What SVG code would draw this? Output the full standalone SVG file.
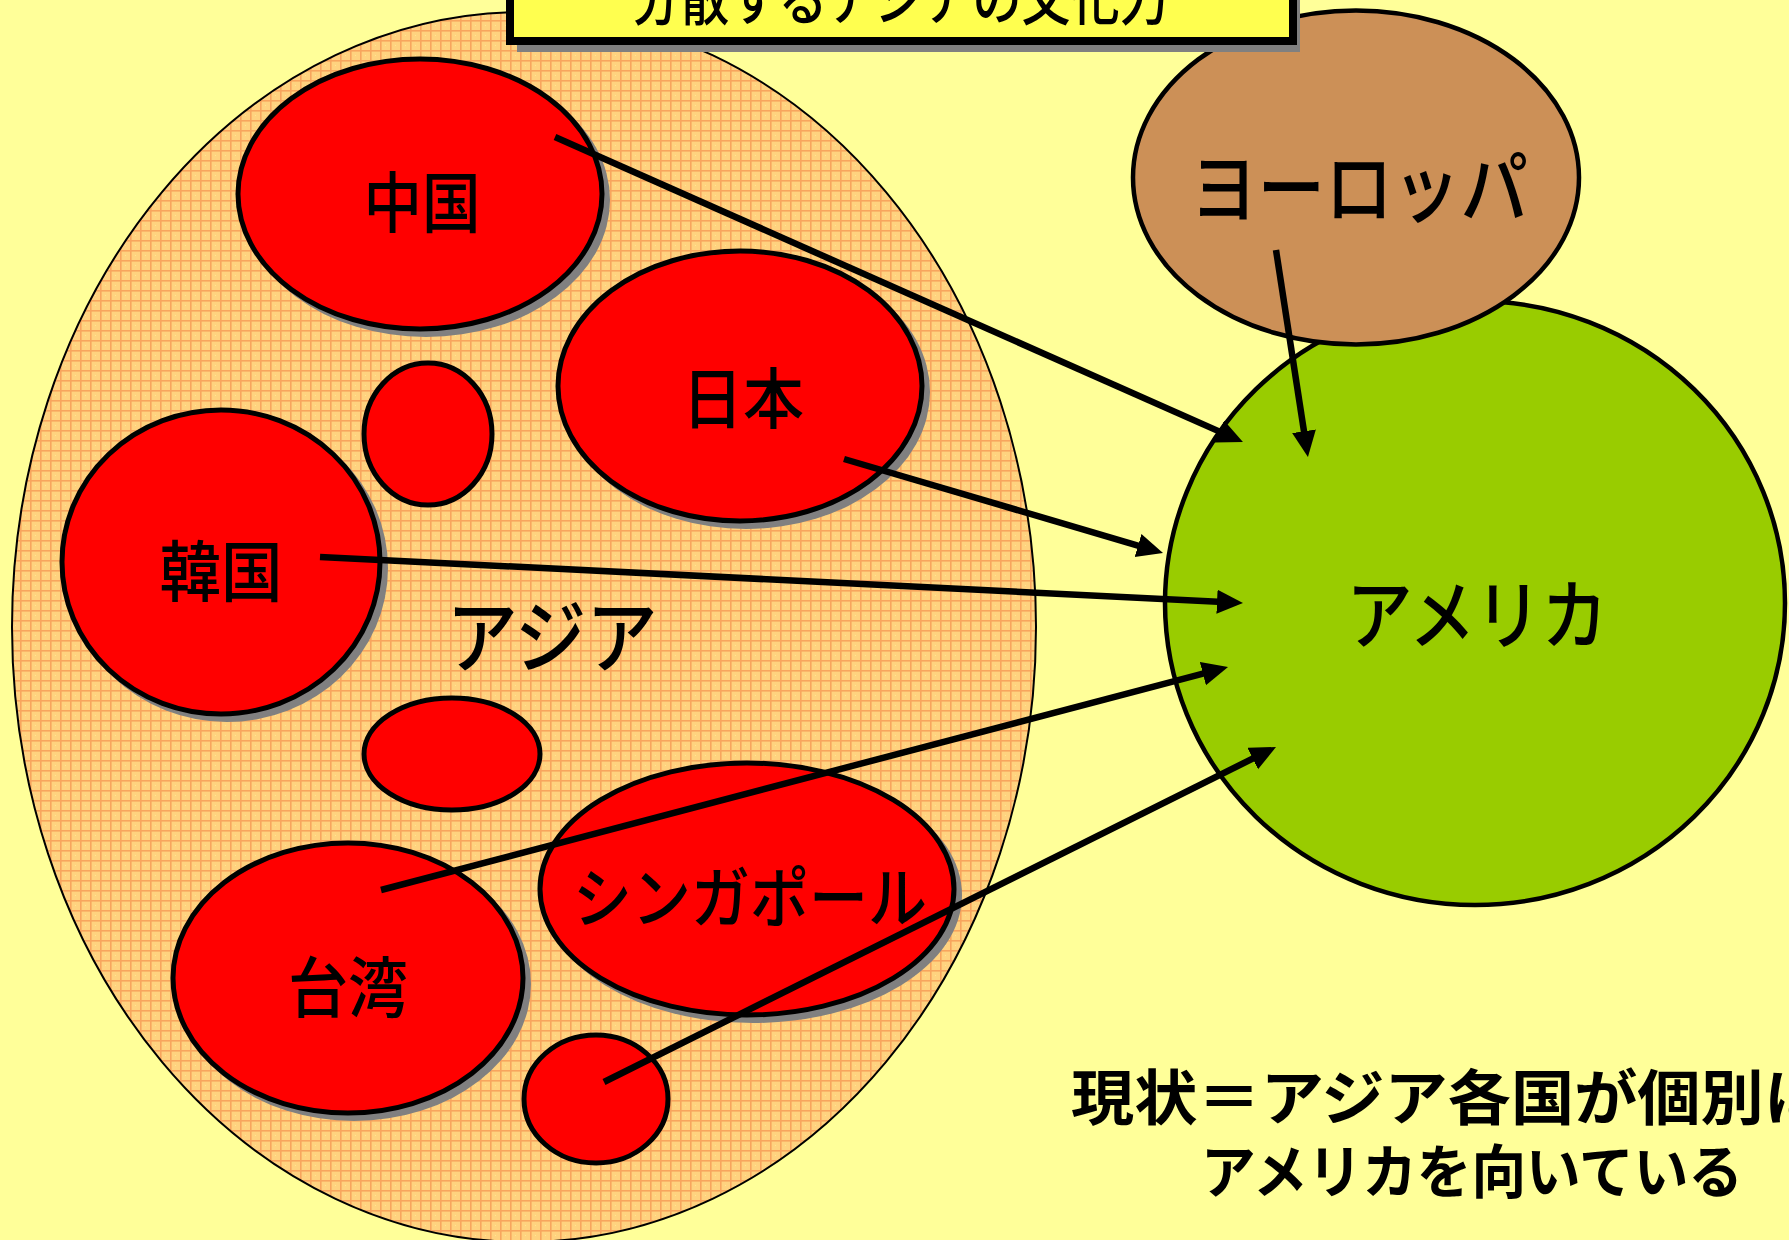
<svg xmlns="http://www.w3.org/2000/svg" width="1789" height="1240" viewBox="0 0 1789 1240">
<style>
.lbl{font-family:"Noto Sans CJK JP","Noto Sans CJK SC",sans-serif;font-weight:500;fill:#000;text-anchor:middle;dominant-baseline:central}
.note{font-family:"Noto Sans CJK JP","Noto Sans CJK SC",sans-serif;font-weight:bold;fill:#000;dominant-baseline:central}
.red{fill:#FF0000;stroke:#000;stroke-width:5}
.shadow{fill:#808080}
.arrow{stroke:#000;stroke-width:6.5;fill:none;marker-end:url(#ah)}
</style>
<defs>
<pattern id="grid" width="10" height="10" patternUnits="userSpaceOnUse">
<rect width="10" height="10" fill="#FFD27F"/>
<rect x="0" y="0" width="1.6" height="10" fill="#F8A55E"/>
<rect x="0" y="0" width="10" height="1.6" fill="#F8A55E"/>
<rect x="5" y="5" width="1" height="1" fill="#FFE690"/>
</pattern>
<marker id="ah" markerUnits="userSpaceOnUse" markerWidth="30" markerHeight="26" refX="6" refY="12" orient="auto">
<path d="M0,0 L26,12 L0,24 z" fill="#000"/>
</marker>
</defs>
<rect width="1789" height="1240" fill="#FFFF99"/>

<g id="asia">
<ellipse cx="524" cy="627" rx="512" ry="615" fill="url(#grid)" stroke="#000" stroke-width="2"/>
<text class="lbl" x="552" y="631" font-size="80" textLength="211" lengthAdjust="spacingAndGlyphs">アジア</text>
</g>

<g id="china">
<ellipse class="shadow" cx="426" cy="200" rx="184" ry="137"/>
<ellipse class="red" cx="420" cy="194" rx="182" ry="135"/>
<text class="lbl" x="422" y="198" font-size="66" textLength="117" lengthAdjust="spacingAndGlyphs">中国</text>
</g>

<g id="japan">
<ellipse class="shadow" cx="746" cy="392" rx="184" ry="137"/>
<ellipse class="red" cx="740" cy="386" rx="182" ry="135"/>
<text class="lbl" x="743" y="394" font-size="66" textLength="122" lengthAdjust="spacingAndGlyphs">日本</text>
</g>

<g id="small1">
<ellipse class="red" cx="428" cy="434" rx="64" ry="71"/>
</g>

<g id="korea">
<ellipse class="shadow" cx="227" cy="568" rx="161" ry="154"/>
<ellipse class="red" cx="221" cy="562" rx="159" ry="152"/>
<text class="lbl" x="221" y="567" font-size="66" textLength="123" lengthAdjust="spacingAndGlyphs">韓国</text>
</g>

<g id="small2">
<ellipse class="red" cx="452" cy="754" rx="88" ry="56"/>
</g>

<g id="singapore">
<ellipse class="shadow" cx="753" cy="895" rx="209" ry="128"/>
<ellipse class="red" cx="747" cy="889" rx="207" ry="126"/>
<text class="lbl" x="750" y="893" font-size="66" textLength="354" lengthAdjust="spacingAndGlyphs">シンガポール</text>
</g>

<g id="taiwan">
<ellipse class="shadow" cx="354" cy="984" rx="177" ry="137"/>
<ellipse class="red" cx="348" cy="978" rx="175" ry="135"/>
<text class="lbl" x="348" y="983" font-size="66" textLength="120" lengthAdjust="spacingAndGlyphs">台湾</text>
</g>

<g id="small3">
<ellipse class="red" cx="596" cy="1099" rx="72" ry="64"/>
</g>

<g id="america">
<ellipse cx="1475" cy="603" rx="310" ry="302" fill="#99CC00" stroke="#000" stroke-width="4.5"/>
<text class="lbl" x="1477" y="610" font-size="76" textLength="261" lengthAdjust="spacingAndGlyphs">アメリカ</text>
</g>

<g id="europe">
<ellipse cx="1356" cy="177.5" rx="223" ry="167" fill="#CC9057" stroke="#000" stroke-width="4.5"/>
<text class="lbl" x="1359" y="183" font-size="78" textLength="338" lengthAdjust="spacingAndGlyphs">ヨーロッパ</text>
</g>

<g id="connectors">
<line class="arrow" x1="555" y1="137" x2="1224.7" y2="433.9"/>
<line class="arrow" x1="1276" y1="250" x2="1304.9" y2="437.2"/>
<line class="arrow" x1="844" y1="459" x2="1143.8" y2="547.3"/>
<line class="arrow" x1="320" y1="557" x2="1223" y2="602"/>
<line class="arrow" x1="381" y1="890" x2="1208.7" y2="672.1"/>
<line class="arrow" x1="604" y1="1082" x2="1258.1" y2="755.9"/>
</g>

<g id="title">
<rect x="517" y="-60" width="783" height="112" fill="#808080"/>
<rect x="510" y="-60" width="783" height="101" fill="#FFFF4F" stroke="#000" stroke-width="8"/>
<text class="lbl" x="900" y="-5" font-size="58" textLength="537" lengthAdjust="spacingAndGlyphs">分散するアジアの文化力</text>
</g>

<g id="note">
<text class="note" x="1071" y="1093" font-size="60" textLength="756" lengthAdjust="spacingAndGlyphs">現状＝アジア各国が個別に</text>
<text class="note" x="1201" y="1168" font-size="58" textLength="542" lengthAdjust="spacingAndGlyphs">アメリカを向いている</text>
</g>
</svg>
